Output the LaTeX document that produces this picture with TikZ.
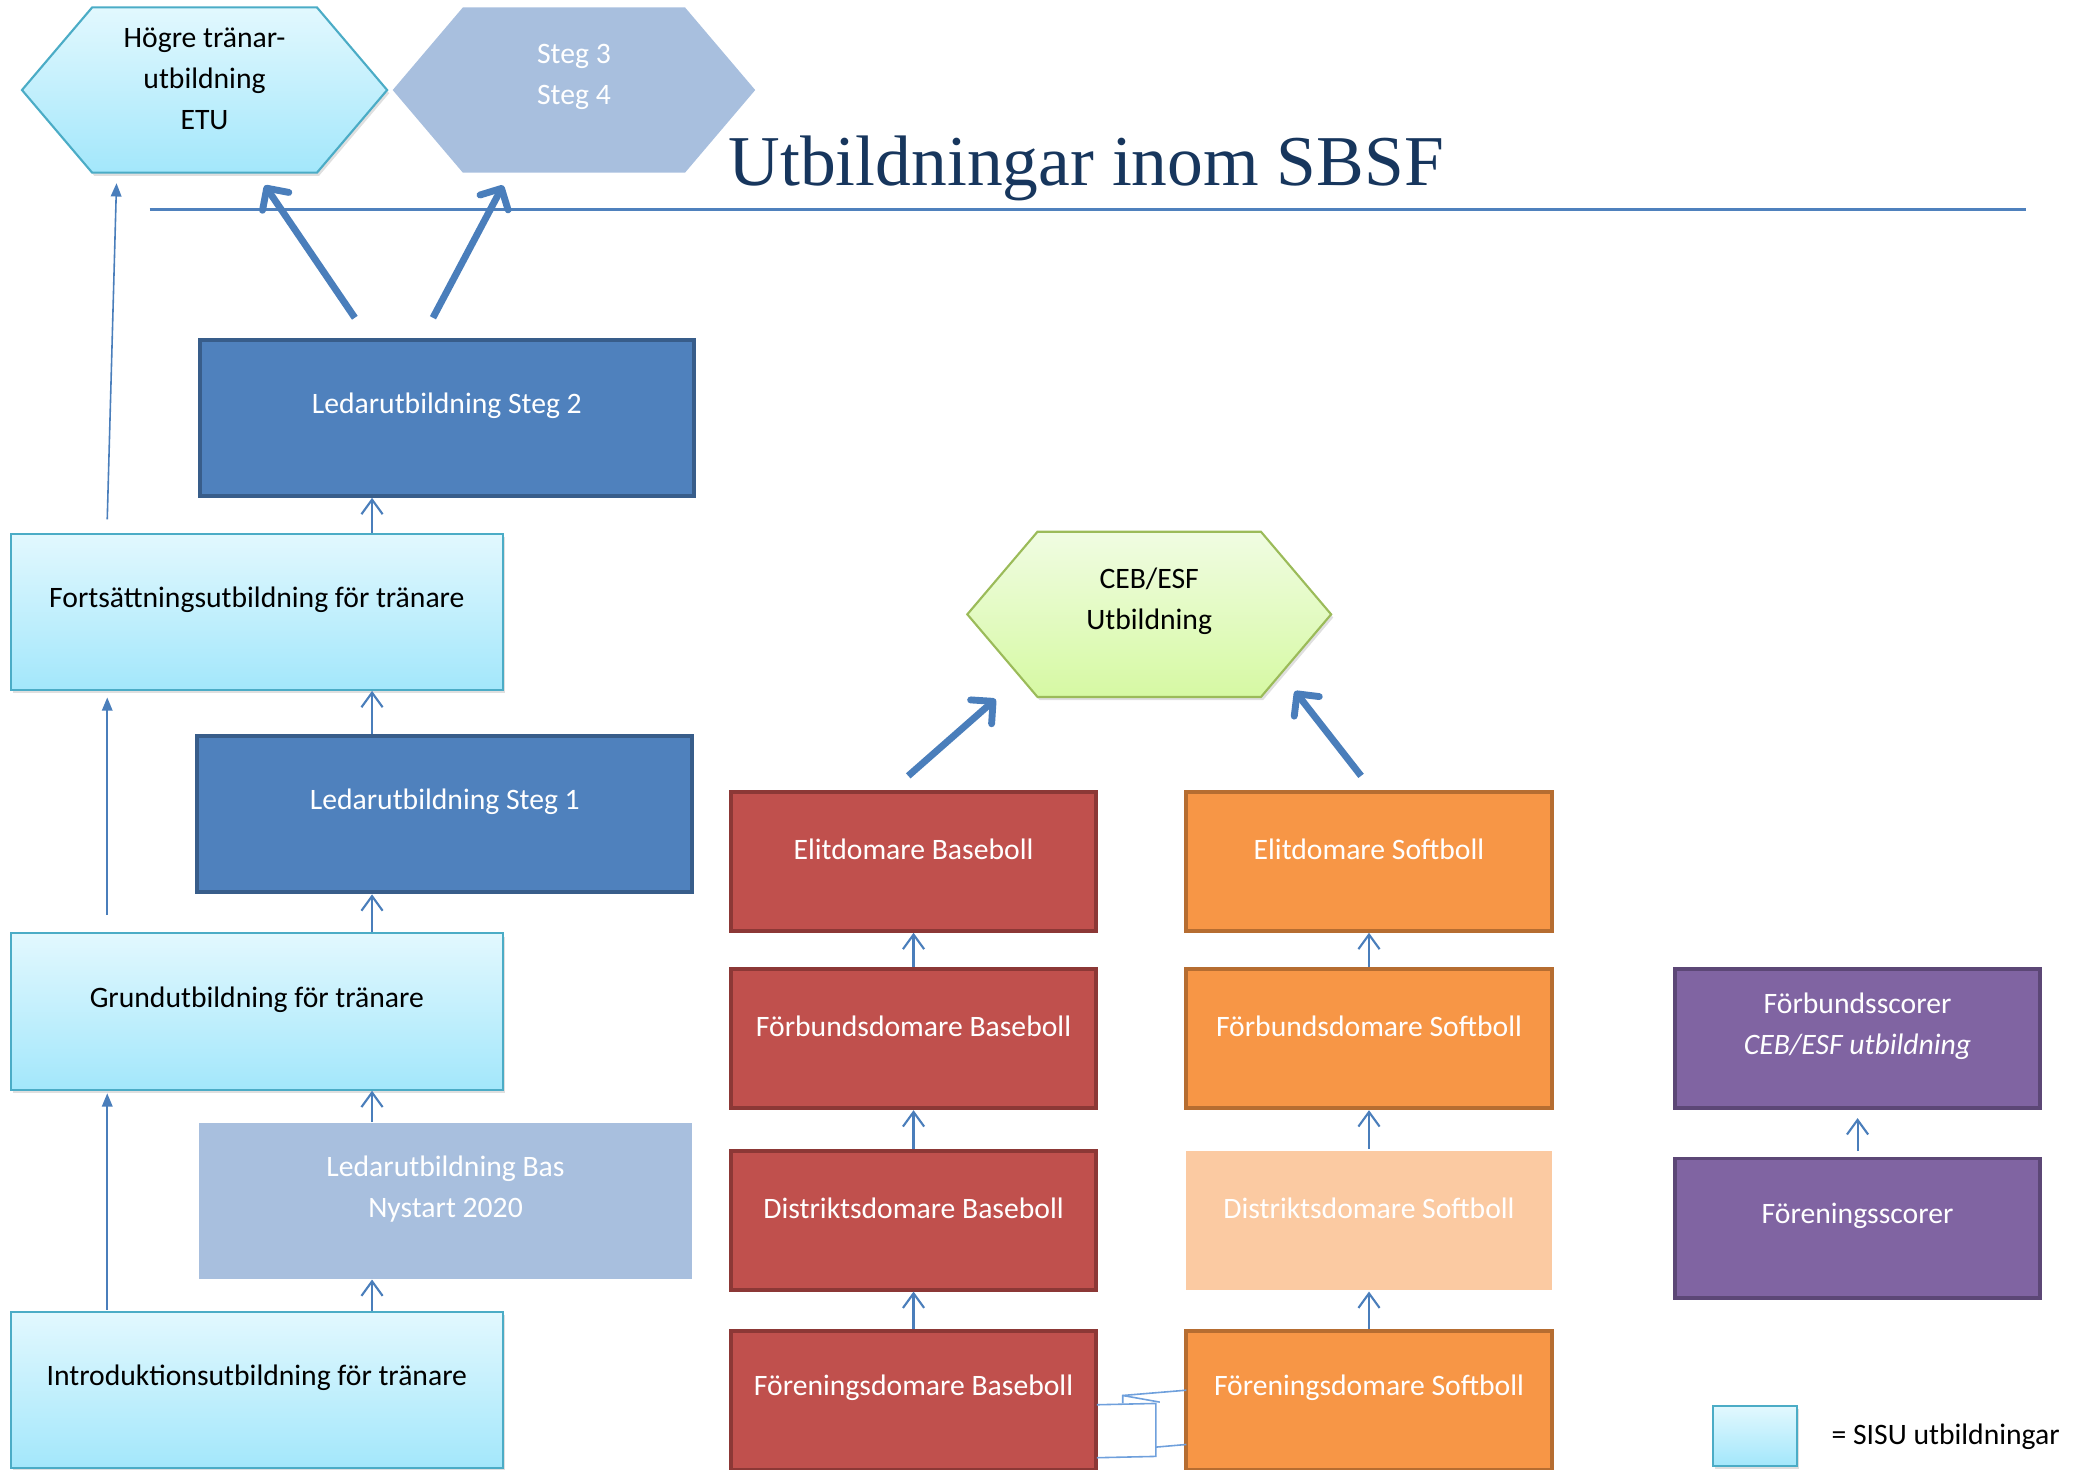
\documentclass[tikz,border=0pt]{standalone}
\usepackage{fontspec}
\setmainfont{Carlito}
\newfontfamily\titlefont{Liberation Serif}
\usetikzlibrary{arrows.meta,shadows,calc}
\pgfdeclarelayer{bg}
\pgfsetlayers{bg,main}
\definecolor{arrblue}{RGB}{74,126,187}
\definecolor{titleblue}{RGB}{23,54,93}
\definecolor{lineblue}{RGB}{79,129,189}
\definecolor{stegfill}{RGB}{79,129,189}
\definecolor{stegdraw}{RGB}{56,93,138}
\definecolor{paleblue}{RGB}{168,191,222}
\definecolor{sisutop}{RGB}{226,248,254}
\definecolor{sisubot}{RGB}{163,231,251}
\definecolor{sisudraw}{RGB}{75,172,198}
\definecolor{greentop}{RGB}{240,252,226}
\definecolor{greenbot}{RGB}{214,249,163}
\definecolor{greendraw}{RGB}{155,187,89}
\definecolor{redfill}{RGB}{192,80,77}
\definecolor{reddraw}{RGB}{140,56,54}
\definecolor{orfill}{RGB}{247,150,70}
\definecolor{ordraw}{RGB}{182,109,49}
\definecolor{palered}{RGB}{251,202,162}
\definecolor{purfill}{RGB}{128,100,162}
\definecolor{purdraw}{RGB}{92,71,118}
\definecolor{glitch}{RGB}{111,160,220}
\begin{document}
\begin{tikzpicture}[x=0.5pt,y=-0.5pt,
  font=\fontsize{11.2}{15.5}\selectfont,
  lb/.style={align=center,yshift=4.6pt},
  lbw/.style={lb,text=white},
  lbk/.style={lb,text=black},
  wide/.style={rectangle,minimum width=186.5pt,minimum height=59pt,inner sep=0pt},
  dom/.style={rectangle,minimum width=138pt,minimum height=52.5pt,inner sep=0pt,line width=1.5pt},
  sisu/.style={draw=sisudraw,line width=0.8pt,top color=sisutop,bottom color=sisubot,
    drop shadow={opacity=0.25,shadow xshift=0.8pt,shadow yshift=-1.2pt}},
  stegbox/.style={wide,draw=stegdraw,fill=stegfill,line width=1.5pt},
  palebox/.style={wide,fill=paleblue},
  redbox/.style={dom,draw=reddraw,fill=redfill},
  orbox/.style={dom,draw=ordraw,fill=orfill},
  purbox/.style={dom,draw=purdraw,fill=purfill},
  hexnode/.style={rectangle,minimum width=137.5pt,minimum height=62pt,inner sep=0pt},
  smallarr/.style={draw=arrblue,line width=0.8pt,-{Straight Barb[length=5.5pt,width=8pt]}},
  thinarr/.style={draw=arrblue,line width=0.6pt,-{Triangle[length=5pt,width=4pt]}},
  thickarr/.style={draw=arrblue,line width=2.6pt,-{Straight Barb[length=6pt,width=12pt,round]}},
  glitchline/.style={draw=glitch,line width=0.6pt}
]
\useasboundingbox (0,0) rectangle (1568,1110);

% title and rule
\node[anchor=base west,font=\titlefont\fontsize{27}{30}\selectfont,text=titleblue,inner sep=0pt] (title) at (550,140) {Utbildningar inom SBSF};
\coordinate (ruleL) at (113,158);
\coordinate (ruleR) at (1530,158);
\draw[lineblue,line width=1pt] (ruleL) -- (ruleR);

% hexagons
\node[hexnode,label={[lbk,yshift=-0.35pt]center:Högre tränar-\\utbildning\\ETU}] (hex1) at (154.5,68) {};
\node[hexnode,minimum width=136.5pt,label={[lbw,yshift=0.4pt]center:Steg 3\\Steg 4}] (hex2) at (433.5,68) {};
\node[hexnode,minimum width=137pt,label={[lbk,yshift=0.4pt]center:CEB/ESF\\Utbildning}] (ceb) at (868,464) {};
\begin{pgfonlayer}{bg}
\path[sisu] (hex1.west) -- ([xshift=26.5pt]hex1.north west) -- ([xshift=-26.5pt]hex1.north east) -- (hex1.east) -- ([xshift=-26.5pt]hex1.south east) -- ([xshift=26.5pt]hex1.south west) -- cycle;
\path[fill=paleblue] (hex2.west) -- ([xshift=26.5pt]hex2.north west) -- ([xshift=-26.5pt]hex2.north east) -- (hex2.east) -- ([xshift=-26.5pt]hex2.south east) -- ([xshift=26.5pt]hex2.south west) -- cycle;
\path[draw=greendraw,line width=0.8pt,top color=greentop,bottom color=greenbot,
    drop shadow={opacity=0.25,shadow xshift=0.8pt,shadow yshift=-1.2pt}]
  (ceb.west) -- ([xshift=26.5pt]ceb.north west) -- ([xshift=-26.5pt]ceb.north east) -- (ceb.east) -- ([xshift=-26.5pt]ceb.south east) -- ([xshift=26.5pt]ceb.south west) -- cycle;
\end{pgfonlayer}

% left column
\node[stegbox,label={[lbw]center:Ledarutbildning Steg 2}] (steg2) at (337.5,315.5) {};
\node[wide,minimum width=186pt,sisu,label={[lbk]center:Fortsättningsutbildning för tränare}] (fort) at (194,462) {};
\node[stegbox,minimum width=187pt,label={[lbw]center:Ledarutbildning Steg 1}] (steg1) at (336,615) {};
\node[wide,minimum width=186pt,sisu,label={[lbk]center:Grundutbildning för tränare}] (grund) at (194,764) {};
\node[palebox,label={[lbw]center:Ledarutbildning Bas\\Nystart 2020}] (bas) at (336.5,907) {};
\node[wide,minimum width=186pt,sisu,label={[lbk]center:Introduktionsutbildning för tränare}] (intro) at (194,1050) {};

% referee columns
\node[redbox,label={[lbw]center:Elitdomare Baseboll}] (elitB) at (690,650.5) {};
\node[redbox,label={[lbw]center:Förbundsdomare Baseboll}] (forbB) at (690,784.5) {};
\node[redbox,label={[lbw]center:Distriktsdomare Baseboll}] (distB) at (690,921.5) {};
\node[redbox,label={[lbw]center:Föreningsdomare Baseboll}] (forenB) at (690,1057.5) {};
\node[orbox,label={[lbw]center:Elitdomare Softboll}] (elitS) at (1034,650.5) {};
\node[orbox,label={[lbw]center:Förbundsdomare Softboll}] (forbS) at (1034,784.5) {};
\node[dom,fill=palered,label={[lbw]center:Distriktsdomare Softboll}] (distS) at (1034,921.5) {};
\node[orbox,label={[lbw]center:Föreningsdomare Softboll}] (forenS) at (1034,1057.5) {};

% scorers
\node[purbox,label={[lbw]center:Förbundsscorer\\\textit{CEB/ESF utbildning}}] (fscB) at (1403,784.5) {};
\node[purbox,label={[lbw]center:Föreningsscorer}] (fscF) at (1403,927.5) {};

% legend
\node[rectangle,minimum width=31.5pt,minimum height=22.5pt,inner sep=0pt,sisu] (legbox) at (1325.5,1084.5) {};
\node[anchor=west,inner sep=0pt] (legtxt) at (1383,1085) {= SISU utbildningar};

% small arrows
\coordinate (colA) at (281,0);
\draw[smallarr] (fort.north -| colA) -- (steg2.south -| colA);
\draw[smallarr] (steg1.north -| colA) -- (fort.south -| colA);
\draw[smallarr] (grund.north -| colA) -- (steg1.south -| colA);
\draw[smallarr] (bas.north -| colA) -- (grund.south -| colA);
\draw[smallarr] (intro.north -| colA) -- (bas.south -| colA);
\draw[smallarr] (forbB.north) -- (elitB.south);
\draw[smallarr] (distB.north) -- (forbB.south);
\draw[smallarr] (forenB.north) -- (distB.south);
\draw[smallarr] (forbS.north) -- (elitS.south);
\draw[smallarr] (distS.north) -- (forbS.south);
\draw[smallarr] (forenS.north) -- (distS.south);
\draw[smallarr,shorten <=2pt,shorten >=3pt] (fscF.north) -- (fscB.south);

% thin left arrows
\coordinate (colL) at (81,0);
\coordinate (colL2) at (88,0);
\draw[thinarr] ([yshift=5pt]fort.north -| colL) -- ([yshift=-4pt]hex1.south -| colL2);
\draw[thinarr] ([yshift=6.5pt]grund.north -| colL) -- ([yshift=-2.5pt]fort.south -| colL);
\draw[thinarr] ([yshift=0.5pt]intro.north -| colL) -- ([yshift=-1pt]grund.south -| colL);

% thick arrows
\coordinate (t1s) at (268,240); \coordinate (t1e) at (200,140);
\coordinate (t2s) at (327,240); \coordinate (t2e) at (380,140);
\coordinate (t3s) at (686,586); \coordinate (t3e) at (752,528);
\coordinate (t4s) at (1028,586); \coordinate (t4e) at (978,522);
\draw[thickarr] (t1s) -- (t1e);
\draw[thickarr] (t2s) -- (t2e);
\draw[thickarr] (t3s) -- (t3e);
\draw[thickarr] (t4s) -- (t4e);

% glitchy connector between Föreningsdomare boxes
\draw[glitchline] (828.5,1061) -- (873,1060) -- (873,1100) -- (828.5,1101);
\draw[glitchline] (873,1093) -- (896,1091);
\draw[glitchline] (896,1050) -- (848,1054) -- (848,1060);
\draw[glitchline] (848,1054) -- (876,1059);
\end{tikzpicture}
\end{document}
